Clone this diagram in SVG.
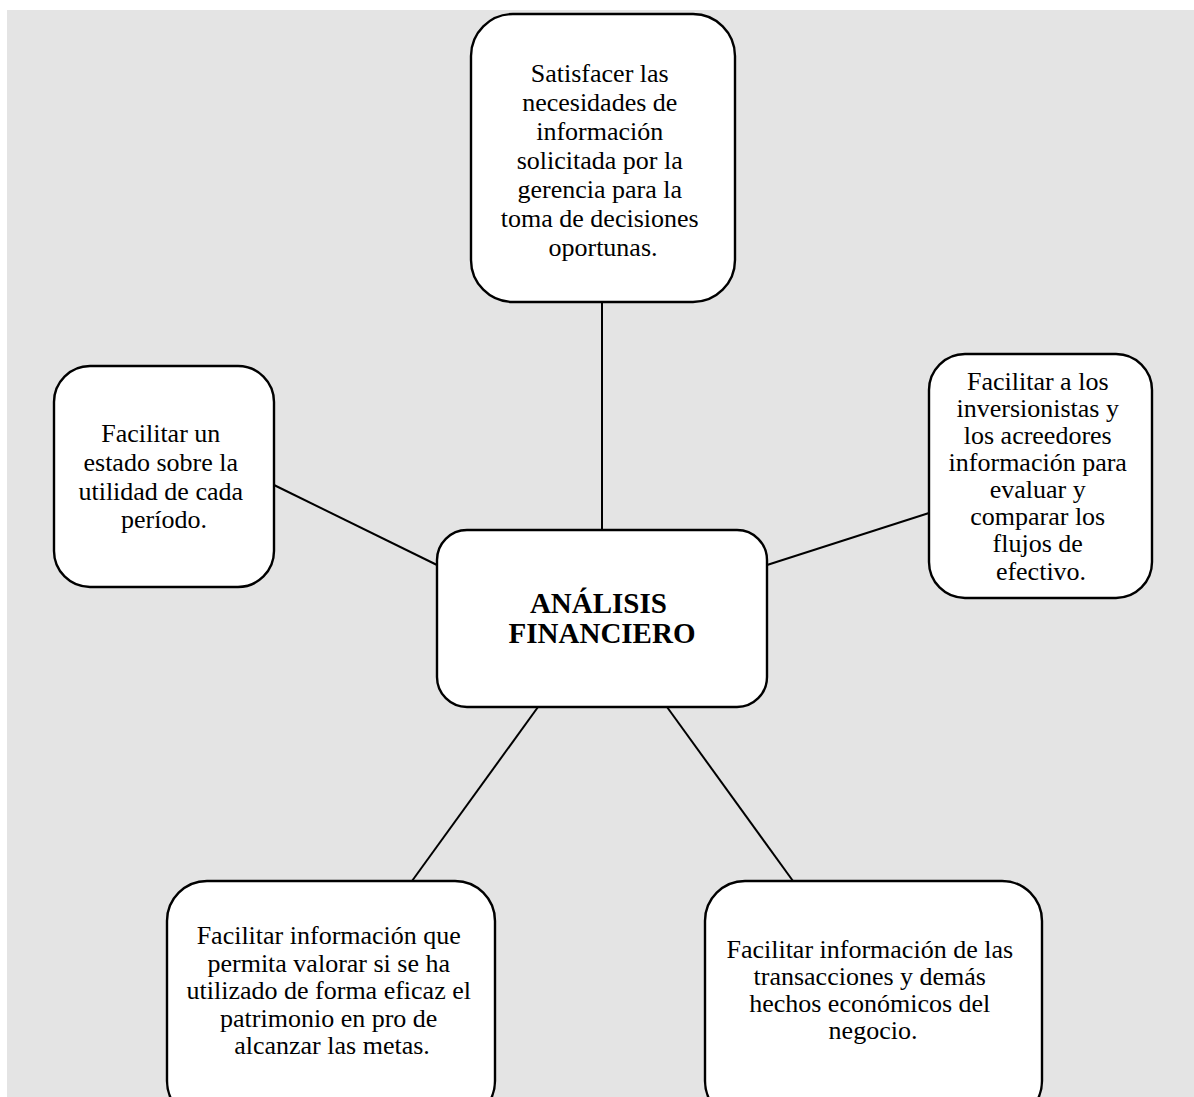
<svg xmlns="http://www.w3.org/2000/svg" width="1194" height="1097" viewBox="0 0 1194 1097">
  <style>
    .box { fill: #ffffff; stroke: #000000; stroke-width: 2.4; }
    .link { stroke: #000000; stroke-width: 2; fill: none; }
    .txt { font-family: "Liberation Serif", "Times New Roman", serif; font-size: 26px; fill: #000000; text-anchor: middle; }
    .title { font-family: "Liberation Serif", "Times New Roman", serif; font-size: 29px; font-weight: bold; fill: #000000; text-anchor: middle; }
  </style>
  <rect x="0" y="0" width="1194" height="1097" fill="#ffffff"/>
  <rect x="7" y="10" width="1187" height="1087" fill="#e4e4e4"/>

  <g id="connectors">
    <line class="link" x1="602" y1="302" x2="602" y2="530"/>
    <line class="link" x1="274" y1="485" x2="437" y2="565"/>
    <line class="link" x1="767" y1="565" x2="929" y2="513"/>
    <line class="link" x1="538" y1="707" x2="412" y2="881"/>
    <line class="link" x1="667" y1="707" x2="793" y2="881"/>
  </g>

  <g id="node-top">
    <rect class="box" x="471" y="14" width="264" height="288" rx="42" ry="42"/>
    <text class="txt">
      <tspan x="603" y="82">Satisfacer las</tspan>
      <tspan x="603" y="111">necesidades de</tspan>
      <tspan x="603" y="140">información</tspan>
      <tspan x="603" y="169">solicitada por la</tspan>
      <tspan x="603" y="198">gerencia para la</tspan>
      <tspan x="603" y="227">toma de decisiones</tspan>
      <tspan x="603" y="256">oportunas.</tspan>
    </text>
  </g>

  <g id="node-center">
    <rect class="box" x="437" y="530" width="330" height="177" rx="30" ry="30"/>
    <text class="title">
      <tspan x="602" y="613">ANÁLISIS</tspan>
      <tspan x="602" y="643">FINANCIERO</tspan>
    </text>
  </g>

  <g id="node-left">
    <rect class="box" x="54" y="366" width="220" height="221" rx="36" ry="36"/>
    <text class="txt">
      <tspan x="164" y="442">Facilitar un</tspan>
      <tspan x="164" y="471">estado sobre la</tspan>
      <tspan x="164" y="500">utilidad de cada</tspan>
      <tspan x="164" y="528">período.</tspan>
    </text>
  </g>

  <g id="node-right">
    <rect class="box" x="929" y="354" width="223" height="244" rx="36" ry="36"/>
    <text class="txt">
      <tspan x="1041" y="390">Facilitar a los</tspan>
      <tspan x="1041" y="417">inversionistas y</tspan>
      <tspan x="1041" y="444">los acreedores</tspan>
      <tspan x="1041" y="471">información para</tspan>
      <tspan x="1041" y="498">evaluar y</tspan>
      <tspan x="1041" y="525">comparar los</tspan>
      <tspan x="1041" y="552">flujos de</tspan>
      <tspan x="1041" y="580">efectivo.</tspan>
    </text>
  </g>

  <g id="node-bottom-left">
    <rect class="box" x="167" y="881" width="328" height="240" rx="40" ry="40"/>
    <text class="txt">
      <tspan x="332" y="944">Facilitar información que</tspan>
      <tspan x="332" y="972">permita valorar si se ha</tspan>
      <tspan x="332" y="999">utilizado de forma eficaz el</tspan>
      <tspan x="332" y="1027">patrimonio en pro de</tspan>
      <tspan x="332" y="1054">alcanzar las metas.</tspan>
    </text>
  </g>

  <g id="node-bottom-right">
    <rect class="box" x="705" y="881" width="337" height="240" rx="40" ry="40"/>
    <text class="txt">
      <tspan x="873" y="958">Facilitar información de las</tspan>
      <tspan x="873" y="985">transacciones y demás</tspan>
      <tspan x="873" y="1012">hechos económicos del</tspan>
      <tspan x="873" y="1039">negocio.</tspan>
    </text>
  </g>
</svg>
